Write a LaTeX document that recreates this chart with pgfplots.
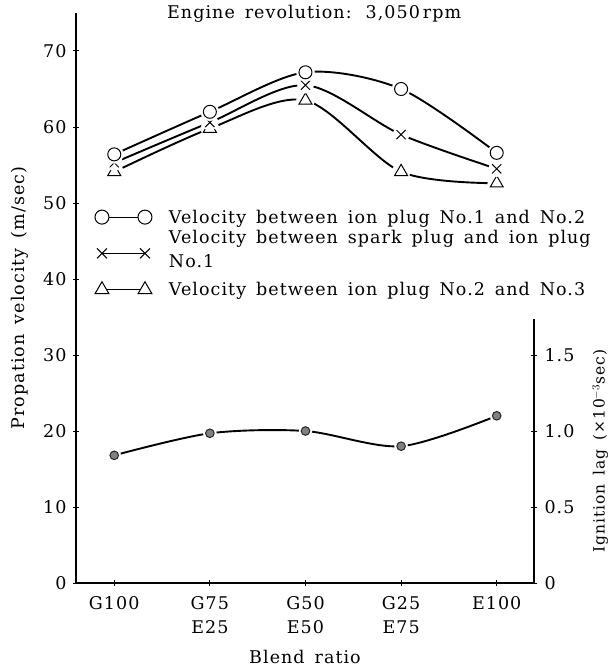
\documentclass[border=0pt]{standalone}
\usepackage{fontspec}
\setmainfont{DejaVu Serif}[LetterSpace=6, WordSpace=1.5]
\usepackage{pgfplots}
\pgfplotsset{compat=1.18}
\pgfplotsset{
  twomark/.style={legend image code/.code={\draw[##1] plot coordinates {(0pt,0pt) (43pt,0pt)};}},
}
\begin{document}
\begin{tikzpicture}[font=\fontsize{17.5}{24}\selectfont]
\useasboundingbox (-76pt,-84pt) rectangle (536pt,583pt);
\begin{axis}[
  at={(0pt,0pt)}, anchor=south west, scale only axis,
  width=458pt, height=570pt, clip=false,
  xmin=-0.40, xmax=4.39, ymin=0, ymax=75,
  axis x line=bottom, axis y line=left,
  axis line style={-, line width=1.1pt},
  every tick/.style={black, line width=1pt}, major tick length=6pt,
  xtick={0,1,2,3,4},
  xticklabels={G100, G75\\E25, G50\\E50, G25\\E75, E100},
  xticklabel style={align=center, yshift=-7pt},
  ytick={0,10,...,70},
  yticklabel style={xshift=-3pt},
  /pgf/number format/assume math mode=true,
  xlabel={Blend ratio}, ylabel={Propation velocity (m/sec)},
  xlabel style={yshift=-10pt},
  ylabel style={yshift=8pt},
  legend cell align=left,
  legend style={at={(0.041,0.657)}, anchor=north west, draw=none, fill=none,
    inner sep=0pt, column sep=16pt, row sep=4pt, nodes={align=left, inner sep=1pt}},
]
% curves
\addplot[black, line width=1.9pt, smooth, forget plot] coordinates {(0,56.4) (1,62.0) (2,67.2) (3,65.0) (4,56.6)};
\addplot[black, line width=1.9pt, smooth, forget plot] coordinates {(0,55.3) (1,60.6) (2,65.5) (3,59.0) (4,54.5)};
\addplot[black, line width=1.9pt, smooth, forget plot] coordinates {(0,54.1) (1,59.8) (2,63.5) (3,54.1) (4,52.6)};
% halos and marks: triangles
\addplot[only marks, mark=*, mark size=9pt, white, forget plot] coordinates {(0,54.1) (1,59.8) (2,63.5) (3,54.1) (4,52.6)};
\addplot[only marks, mark=triangle*, mark size=7.5pt, mark options={fill=white, draw=black, line width=1pt}, forget plot] coordinates {(0,54.1) (1,59.8) (2,63.5) (3,54.1) (4,52.6)};
% crosses
\addplot[only marks, mark=*, mark size=8pt, white, forget plot] coordinates {(0,55.3) (1,60.6) (2,65.5) (3,59.0) (4,54.5)};
\addplot[only marks, mark=x, mark size=6.5pt, mark options={draw=black, line width=1pt}, forget plot] coordinates {(0,55.3) (1,60.6) (2,65.5) (3,59.0) (4,54.5)};
% circles
\addplot[only marks, mark=*, mark size=9pt, white, forget plot] coordinates {(0,56.4) (1,62.0) (2,67.2) (3,65.0) (4,56.6)};
\addplot[only marks, mark=*, mark size=6.5pt, mark options={fill=white, draw=black, line width=1pt}, forget plot] coordinates {(0,56.4) (1,62.0) (2,67.2) (3,65.0) (4,56.6)};
% legend
\addlegendimage{twomark, black, line width=1pt, mark=*, mark size=7pt, mark options={fill=white}}
\addlegendentry{Velocity between ion plug No.1 and No.2}
\addlegendimage{twomark, black, line width=1pt, mark=x, mark size=7pt}
\addlegendentry{Velocity between spark plug and ion plug\\No.1\\[-17pt]\mbox{}}
\addlegendimage{twomark, black, line width=1pt, mark=triangle*, mark size=8pt, mark options={fill=white}}
\addlegendentry{Velocity between ion plug No.2 and No.3}
\node[anchor=base] at (rel axis cs:0.52,0.991) {Engine revolution:\hspace{0.8em}3,050\,rpm};
\end{axis}
\begin{axis}[
  at={(0pt,0pt)}, anchor=south west, scale only axis,
  width=458pt, height=264pt,
  xmin=-0.40, xmax=4.39, ymin=0, ymax=1.737,
  axis x line=none, axis y line=right,
  axis line style={-, line width=1.1pt},
  every tick/.style={black, line width=1pt}, major tick length=6pt,
  ytick={0,0.5,1,1.5}, yticklabels={0,0.5,1.0,1.5},
  yticklabel style={xshift=4pt},
  ylabel={Ignition lag (\texttimes10$^{-3}$sec)},
  ylabel style={yshift=-11pt, font=\fontsize{15.5}{18}\selectfont},
]
\addplot[black, line width=1.9pt, smooth, forget plot] coordinates {(0,0.84) (1,0.985) (2,1.0) (3,0.90) (4,1.10)};
\addplot[only marks, mark=*, mark size=6.5pt, white, forget plot] coordinates {(0,0.84) (1,0.985) (2,1.0) (3,0.90) (4,1.10)};
\addplot[only marks, mark=*, mark size=4.3pt, mark options={fill=gray, draw=black!85, line width=1pt}, forget plot] coordinates {(0,0.84) (1,0.985) (2,1.0) (3,0.90) (4,1.10)};
\end{axis}
\end{tikzpicture}
\end{document}
